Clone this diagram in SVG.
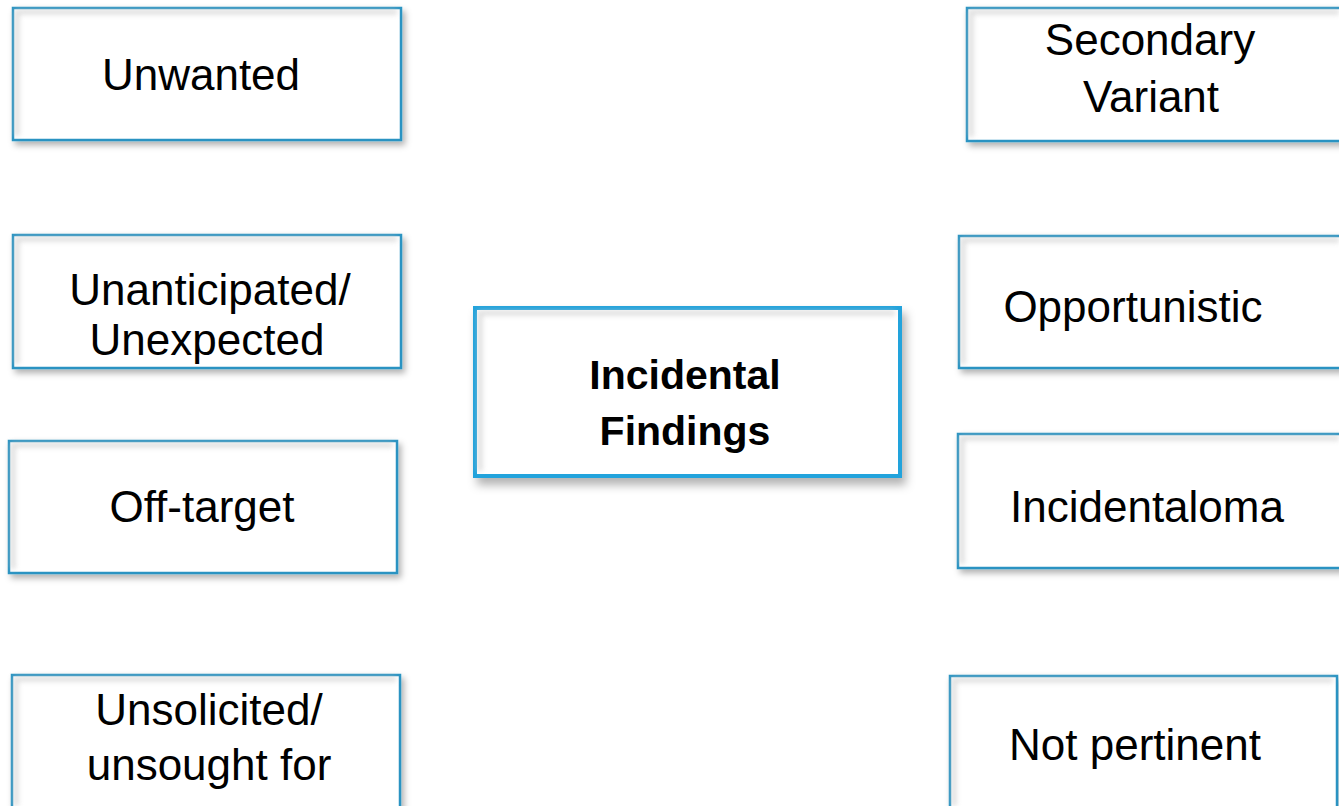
<svg xmlns="http://www.w3.org/2000/svg" width="1339" height="806" viewBox="0 0 1339 806">
<style>
.box{fill:#ffffff;stroke:#2b93c2;stroke-width:2.5;filter:url(#ds)}
.center{fill:#ffffff;stroke:#22a3dc;stroke-width:4;filter:url(#ds2)}
.inner{fill:none;stroke:#c8c8c8;stroke-width:5;filter:url(#blur)}
.t{font-family:"Liberation Sans",Arial,sans-serif;font-size:44px;fill:#000;text-anchor:middle}
.tb{font-family:"Liberation Sans",Arial,sans-serif;font-size:41px;font-weight:bold;fill:#000;text-anchor:middle}
</style>
<defs>
<filter id="ds" x="-10%" y="-10%" width="125%" height="130%">
<feDropShadow dx="3" dy="4" stdDeviation="3" flood-color="#000" flood-opacity="0.3"/>
</filter>
<filter id="ds2" x="-10%" y="-10%" width="125%" height="130%">
<feDropShadow dx="4" dy="7" stdDeviation="5" flood-color="#000" flood-opacity="0.3"/>
</filter>
<filter id="blur"><feGaussianBlur stdDeviation="2.5"/></filter>
</defs>
<rect width="1339" height="806" fill="#ffffff"/>
<g id="connectors"></g>
<g id="n-unwanted">
<rect class="box" x="13" y="8" width="388" height="132"/>
<path class="inner" d="M17 136 V12 H397" clip-path="none" opacity="0.6"/>
<text class="t" x="201" y="90">Unwanted</text>
</g>
<g id="n-unanticipated">
<rect class="box" x="13" y="235" width="388" height="133"/>
<path class="inner" d="M17 364 V239 H397" opacity="0.6"/>
<text class="t" x="210" y="305">Unanticipated/</text>
<text class="t" x="207" y="355">Unexpected</text>
</g>
<g id="n-offtarget">
<rect class="box" x="9" y="441" width="388" height="132"/>
<path class="inner" d="M13 569 V445 H393" opacity="0.6"/>
<text class="t" x="202" y="522">Off-target</text>
</g>
<g id="n-unsolicited">
<rect class="box" x="12" y="675" width="388" height="140"/>
<path class="inner" d="M16 806 V679 H396" opacity="0.6"/>
<text class="t" x="209" y="725">Unsolicited/</text>
<text class="t" x="209" y="780">unsought for</text>
</g>
<g id="n-center">
<rect class="center" x="475" y="308" width="425" height="168"/>
<path class="inner" d="M480 471 V313 H895" opacity="0.6"/>
<text class="tb" x="685" y="389">Incidental</text>
<text class="tb" x="685" y="445">Findings</text>
</g>
<g id="n-secondary">
<rect class="box" x="967" y="8" width="390" height="133"/>
<path class="inner" d="M971 137 V12 H1339" opacity="0.6"/>
<text class="t" x="1150" y="55">Secondary</text>
<text class="t" x="1151" y="112">Variant</text>
</g>
<g id="n-opportunistic">
<rect class="box" x="959" y="236" width="398" height="132"/>
<path class="inner" d="M963 364 V240 H1339" opacity="0.6"/>
<text class="t" x="1133" y="322">Opportunistic</text>
</g>
<g id="n-incidentaloma">
<rect class="box" x="958" y="434" width="399" height="134"/>
<path class="inner" d="M962 564 V438 H1339" opacity="0.6"/>
<text class="t" x="1147" y="522">Incidentaloma</text>
</g>
<g id="n-notpertinent">
<rect class="box" x="950" y="676" width="387" height="140"/>
<path class="inner" d="M954 806 V680 H1333" opacity="0.6"/>
<text class="t" x="1135" y="760">Not pertinent</text>
</g>
</svg>
